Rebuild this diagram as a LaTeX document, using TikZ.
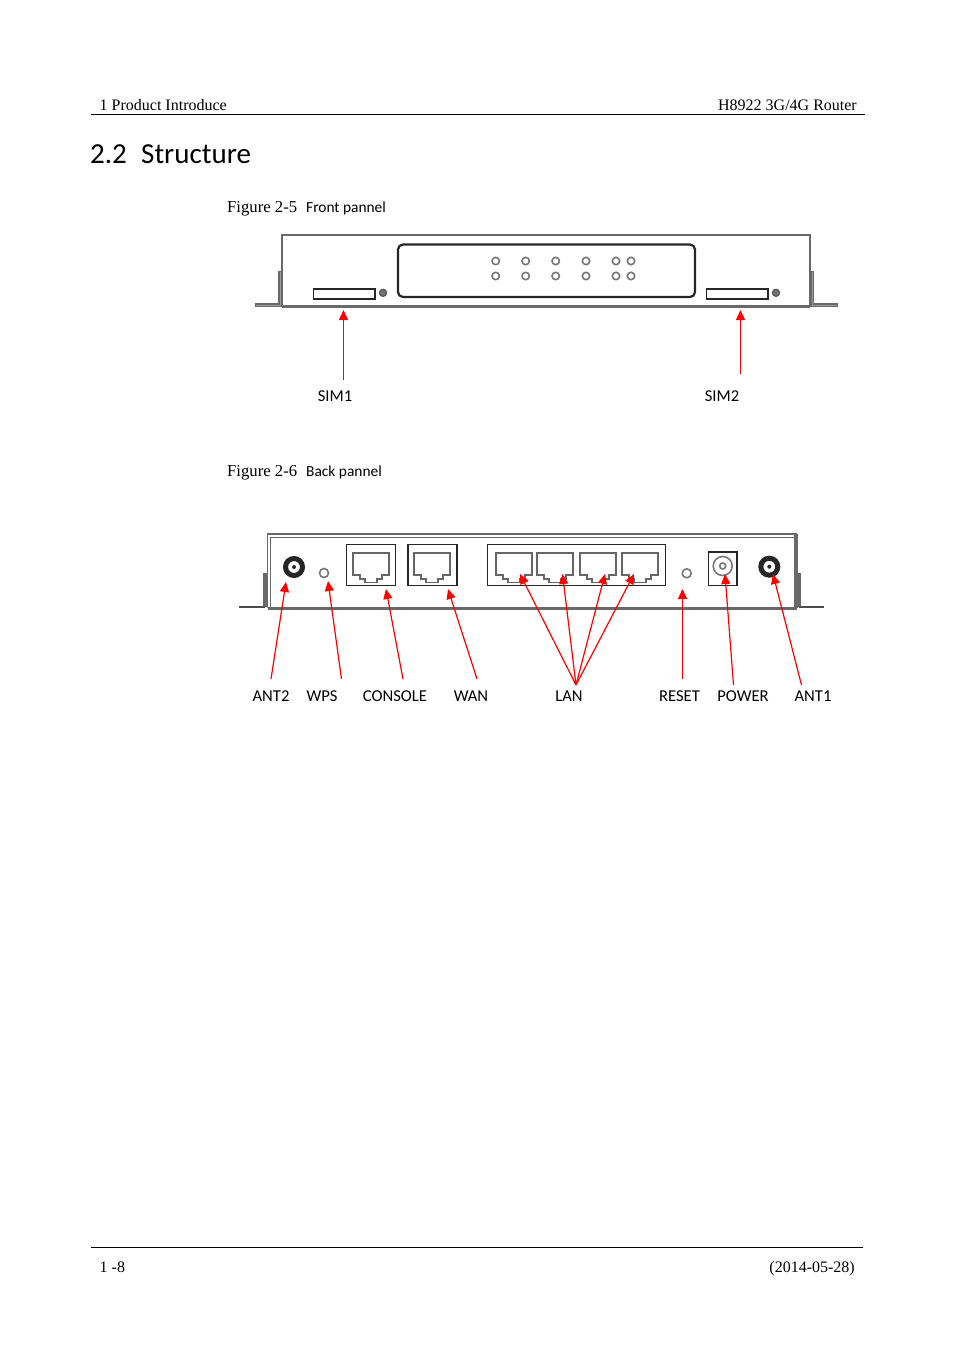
\documentclass[tikz,border=0pt]{standalone}
\usepackage{fontspec}
\setmainfont{Liberation Serif}
\newfontfamily\calfam{Carlito}
\usetikzlibrary{arrows.meta}
\definecolor{panelgray}{RGB}{105,105,105}
\definecolor{ledgray}{RGB}{120,120,120}
\tikzset{
  serif/.style={font=\fontsize{16}{18}\selectfont,inner sep=0pt},
  figtext/.style={font=\fontsize{16.7}{18}\selectfont,inner sep=0pt},
  lab/.style={font=\calfam\fontsize{16.6}{19}\selectfont,inner sep=0pt},
  captext/.style={font=\calfam\fontsize{15.4}{19}\selectfont,inner sep=0pt},
  head/.style={font=\calfam\fontsize{29}{34}\selectfont,inner sep=0pt},
  rule/.style={line width=1pt,black},
  shell/.style={draw=panelgray,line width=1.5pt},
  shellb/.style={draw=panelgray,line width=2.4pt},
  footo/.style={draw=panelgray,line width=3.4pt},
  footi/.style={draw=black!40,line width=0.8pt},
  portbox/.style={draw=black!85,line width=1.9pt},
  led/.style={draw=ledgray,line width=1.6pt,fill=white},
  darkled/.style={draw=black!65,fill=black!55,line width=1.2pt},
  ant/.style={draw=black!85,line width=5pt},
  callout/.style={draw=red,line width=1.2pt,-{Triangle[length=10pt,width=9pt]}},
  pics/jack/.style={code={
    \draw[draw=black!60,line width=1.7pt,line join=miter,fill=white]
      (0,0)--(36,0)--(36,21.5)--(29,21.5)--(29,26)--(24,26)--(24,29.3)--(12,29.3)--(12,26)--(7,26)--(7,21.5)--(0,21.5)--cycle;
  }}
}
\begin{document}
\begin{tikzpicture}[x=1pt,y=-1pt]
\useasboundingbox (0,0) rectangle (954,1350);
% header / footer
\node[serif,anchor=base west] (hl) at (99.5,110) {1 Product Introduce};
\node[serif,anchor=base east] (hr) at (857,110) {H8922 3G/4G Router};
\draw[rule] (91,114.5) -- (865,114.5);
\node[head,anchor=base west] (h1) at (90,163) {2.2};
\node[head,anchor=base west] (h2) at (141,163) {Structure};
\draw[rule] (91,1247) -- (863,1247);
\node[serif,anchor=base west] (fl) at (99.5,1272) {1 -8};
\node[serif,anchor=base east] (fr) at (855,1272) {(2014-05-28)};
% captions
\node[figtext,anchor=base west] (c1a) at (227,212) {Figure 2-5};
\node[captext,anchor=base west] (c1b) at (306,212) {Front pannel};
\node[figtext,anchor=base west] (c2a) at (227,476) {Figure 2-6};
\node[captext,anchor=base west] (c2b) at (306,476) {Back pannel};
% front panel
\draw[shell] (282,306.5) -- (282,235) -- (810,235) -- (810,306.5);
\draw[shellb] (282,306.5) -- (810,306.5);
\draw[footo] (280,271) -- (280,305) -- (255,305);
\draw[footi] (280,272) -- (280,305) -- (256,305);
\draw[footo] (812.5,271) -- (812.5,305) -- (838,305);
\draw[footi] (812.5,272) -- (812.5,305) -- (837,305);
\draw[draw=black!85,line width=2.2pt,rounded corners=5pt] (398,244.5) rectangle (695,297);
\foreach \x in {495.7,525.7,555.7,586,616,631}{
  \foreach \y in {261,276}{\draw[led] (\x,\y) circle (3.7);}
}
\draw[portbox] (313.5,289) rectangle (375,299);
\draw[darkled] (383,292.8) circle (3.6);
\draw[portbox] (706.5,289) rectangle (768,299);
\draw[darkled] (776,292.8) circle (3.6);
\node[lab] (sim1) at (335,396) {SIM1};
\node[lab] (sim2) at (722,396) {SIM2};
\coordinate (s1a) at (343.5,380); \coordinate (s1b) at (343.5,310);
\coordinate (s2a) at (740.5,374); \coordinate (s2b) at (740.5,310);
\draw[callout] (s1a) -- (s1b);
\draw[callout] (s2a) -- (s2b);
% back panel
\draw[shell] (267.5,608) -- (267.5,534) -- (797,534);
\draw[footo] (796,534) -- (796,608);
\draw[shell] (270.5,608) -- (270.5,537.5) -- (794,537.5);
\draw[shellb] (267.5,608.5) -- (797,608.5);
\draw[footo] (265,573) -- (265,607);
\draw[draw=black!70,line width=2.6pt] (265,607) -- (239,607);
\draw[footo] (799,573) -- (799,607);
\draw[draw=black!70,line width=2.6pt] (799,607) -- (824,607);
\draw[ant] (294,567) circle (8.5);
\fill[black!85] (294,567) circle (2);
\draw[led] (324,573) circle (4.5);
\draw[portbox] (346.5,544.5) rectangle (395.5,585.5);
\pic at (353,553.3) {jack};
\draw[portbox] (408,544.5) rectangle (457,585.5);
\pic at (414,553.3) {jack};
\draw[portbox] (487.5,544.5) rectangle (665.5,585.5);
\foreach \x in {495.7,537.3,580,622}{\pic at (\x,553.3) {jack};}
\draw[led] (686.7,573.3) circle (4.5);
\draw[portbox] (708.5,552) rectangle (737.3,585.5);
\draw[led] (722.7,566) circle (9.5);
\draw[led] (722.7,566) circle (3);
\draw[ant] (769.3,566.7) circle (8.5);
\fill[black!85] (769.3,566.7) circle (2);
% labels
\node[lab] (ant2) at (271,696) {ANT2};
\node[lab] (wps) at (322,696) {WPS};
\node[lab] (console) at (395,696) {CONSOLE};
\node[lab] (wan) at (471,696) {WAN};
\node[lab] (lan) at (569,696) {LAN};
\node[lab] (reset) at (679.5,696) {RESET};
\node[lab] (power) at (743,696) {POWER};
\node[lab] (ant1) at (813,696) {ANT1};
% callouts
\coordinate (a2t) at (271,679); \coordinate (a2h) at (286,582);
\coordinate (wt) at (341.5,679); \coordinate (wh) at (328,581);
\coordinate (ct) at (403,679); \coordinate (ch) at (386,589);
\coordinate (wat) at (477,679); \coordinate (wah) at (448,589);
\coordinate (lt) at (576,685);
\coordinate (l1) at (520,574); \coordinate (l2) at (562.5,574);
\coordinate (l3) at (605,574); \coordinate (l4) at (634,574);
\coordinate (rt) at (682.5,679); \coordinate (rh) at (682.5,589);
\coordinate (pt) at (733.5,685); \coordinate (ph) at (725,574);
\coordinate (a1t) at (801.5,685); \coordinate (a1h) at (773,574);
\draw[callout] (a2t) -- (a2h);
\draw[callout] (wt) -- (wh);
\draw[callout] (ct) -- (ch);
\draw[callout] (wat) -- (wah);
\foreach \h in {l1,l2,l3,l4}{\draw[callout] (lt) -- (\h);}
\draw[callout] (rt) -- (rh);
\draw[callout] (pt) -- (ph);
\draw[callout] (a1t) -- (a1h);
\end{tikzpicture}
\end{document}
